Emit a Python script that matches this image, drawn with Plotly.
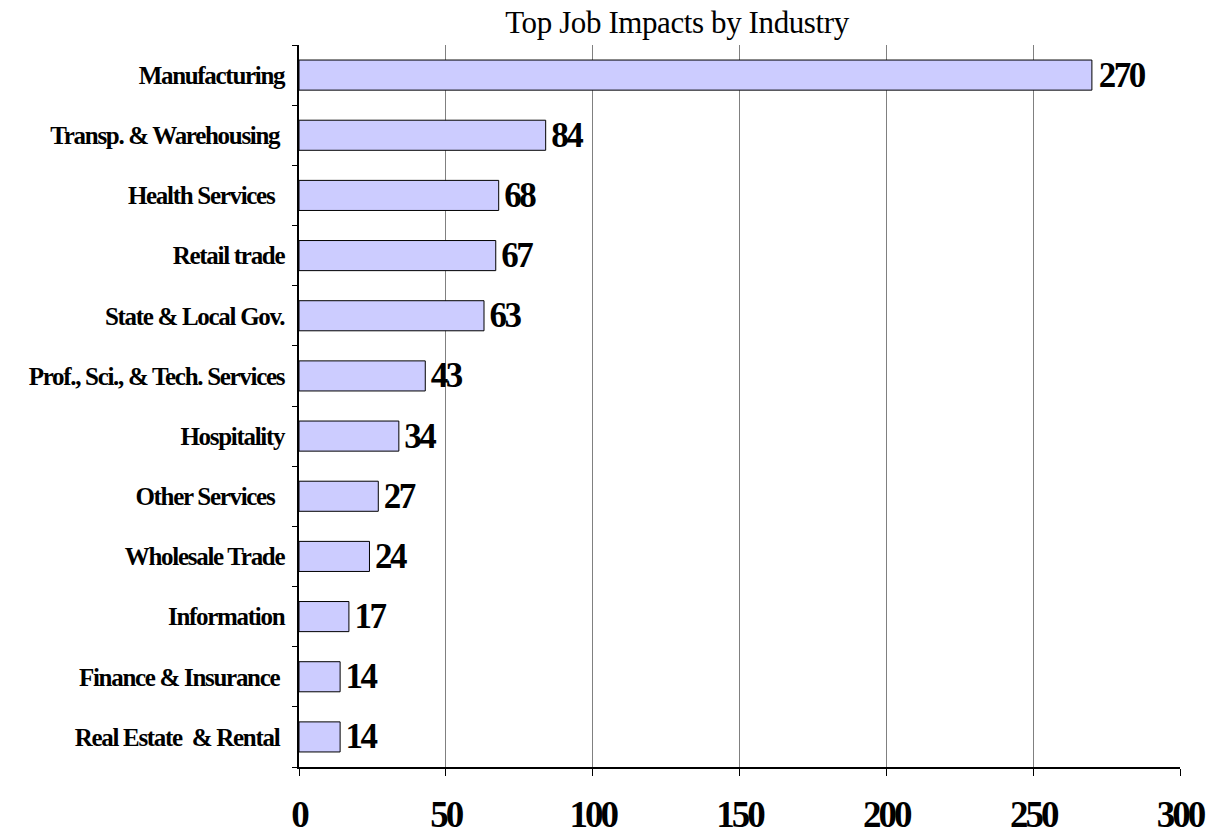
import plotly.graph_objects as go

industries = ["Manufacturing", "Transp. & Warehousing ", "Health Services  ", "Retail trade",
              "State & Local Gov.", "Prof., Sci., & Tech. Services", "Hospitality", "Other Services  ",
              "Wholesale Trade", "Information", "Finance & Insurance ", "Real Estate  & Rental "]
jobs = [270, 84, 68, 67, 63, 43, 34, 27, 24, 17, 14, 14]
x_ticks = [0, 50, 100, 150, 200, 250, 300]

serif = "Liberation Serif, Times New Roman, serif"

fig = go.Figure(go.Bar(
    y=industries, x=jobs, orientation="h",
    marker=dict(color="#CCCCFF", line=dict(color="black", width=1)),
    width=0.5,
    text=[str(v) for v in jobs], textposition="outside", constraintext="none",
    textfont=dict(family=serif, size=35, color="black", weight="bold"),
    cliponaxis=False,
))

fig.update_layout(
    width=1217, height=838,
    paper_bgcolor="white", plot_bgcolor="white",
    margin=dict(l=299, r=37, t=45, b=71, autoexpand=False),
    title=dict(text="Top Job Impacts by Industry", x=677/1217, xanchor="center",
               y=1-22/838, yanchor="middle", yref="container",
               font=dict(family=serif, size=31, color="black")),
    showlegend=False,
    xaxis=dict(range=[0, 300], tickvals=x_ticks, showgrid=True, gridcolor="#808080", gridwidth=1,
               showline=True, linecolor="black", linewidth=1.5, ticks="outside", ticklen=7,
               tickcolor="black", zeroline=False, ticklabelstandoff=7, automargin=False,
               tickfont=dict(family=serif, size=37, color="black", weight="bold")),
    yaxis=dict(categoryorder="array", categoryarray=industries[::-1], showline=True,
               linecolor="black", linewidth=1.5, ticks="outside", ticklen=5, tickson="boundaries",
               tickcolor="black", showgrid=False, ticklabelstandoff=8, automargin=False,
               tickfont=dict(family=serif, size=25, color="black", weight="bold")),
    bargap=0.5,
)

post = """
document.body.style.margin='0';
var gd=document.getElementById('{plot_id}');
function ls(sel,v){gd.querySelectorAll(sel).forEach(function(t){t.style.letterSpacing=v;});}
ls('g.ytick text','-1.3px');
ls('g.xtick text','-3px');
ls('text.bartext','-2.5px');
ls('text.gtitle','-0.4px');
"""

fig.write_html("out.html", post_script=post, config={"displayModeBar": False})
